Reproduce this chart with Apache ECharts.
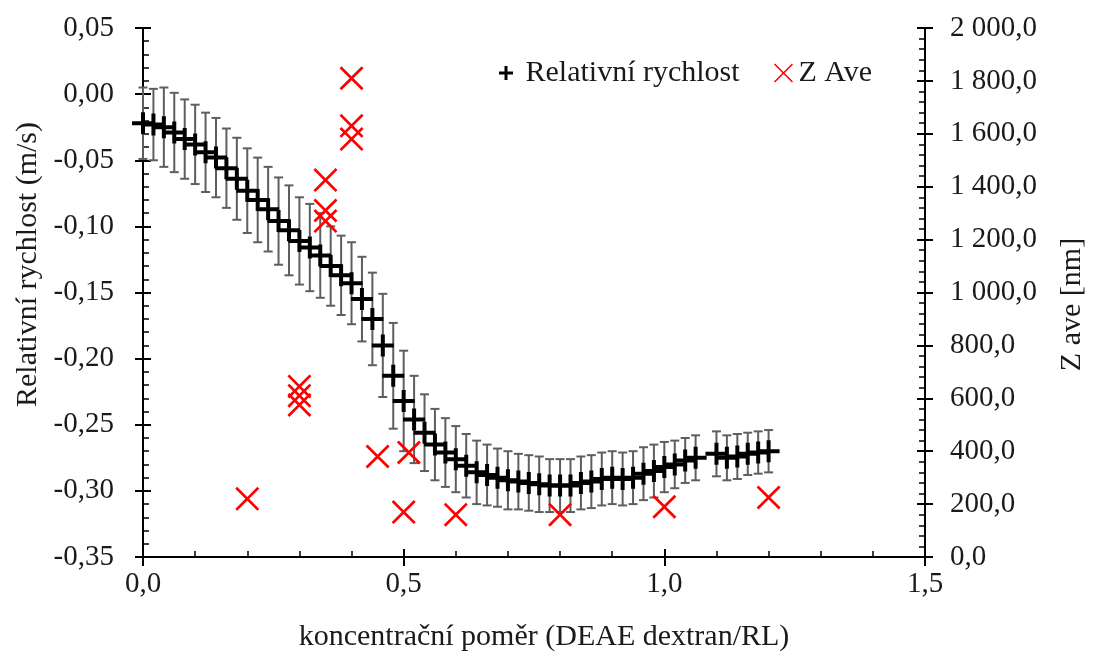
<!DOCTYPE html>
<html>
<head>
<meta charset="utf-8">
<script src="https://cdn.jsdelivr.net/npm/echarts@6/dist/echarts.min.js"></script>
<style>
  html, body { margin: 0; padding: 0; background: #ffffff; }
  #chart { width: 1095px; height: 657px; }
</style>
</head>
<body>
<div id="chart"></div>
<script>
// Concentration ratio (DEAE dextran / RL) for the velocity measurements
const concentration = [
  0.00, 0.02, 0.04, 0.06, 0.08, 0.10, 0.12, 0.14, 0.16, 0.18,
  0.20, 0.22, 0.24, 0.26, 0.28, 0.30, 0.32, 0.34, 0.36, 0.38,
  0.40, 0.42, 0.44, 0.46, 0.48, 0.50, 0.52, 0.54, 0.56, 0.58,
  0.60, 0.62, 0.64, 0.66, 0.68, 0.70, 0.72, 0.74, 0.76, 0.78,
  0.80, 0.82, 0.84, 0.86, 0.88, 0.90, 0.92, 0.94, 0.96, 0.98,
  1.00, 1.02, 1.04, 1.06, 1.10, 1.12, 1.14, 1.16, 1.18, 1.20
];
// Relative velocity (m/s)
const velocity = [
  -0.022, -0.023, -0.025, -0.029, -0.034, -0.038, -0.044, -0.048, -0.056, -0.064,
  -0.073, -0.080, -0.087, -0.096, -0.103, -0.111, -0.116, -0.122, -0.130, -0.137,
  -0.143, -0.155, -0.170, -0.190, -0.213, -0.232, -0.246, -0.256, -0.265, -0.271,
  -0.276, -0.281, -0.286, -0.288, -0.290, -0.292, -0.293, -0.294, -0.295, -0.296,
  -0.296, -0.296, -0.294, -0.293, -0.291, -0.290, -0.291, -0.290, -0.287, -0.285,
  -0.282, -0.280, -0.277, -0.275, -0.272, -0.275, -0.274, -0.272, -0.271, -0.270
];
// Standard deviation of the relative velocity (m/s)
const velocityErr = [
  0.027, 0.027, 0.030, 0.030, 0.030, 0.030, 0.030, 0.030, 0.030, 0.031,
  0.032, 0.032, 0.032, 0.033, 0.034, 0.033, 0.033, 0.032, 0.030, 0.030,
  0.031, 0.032, 0.035, 0.039, 0.040, 0.038, 0.033, 0.029, 0.027, 0.026,
  0.025, 0.024, 0.024, 0.023, 0.022, 0.022, 0.021, 0.021, 0.021, 0.020,
  0.020, 0.020, 0.020, 0.020, 0.020, 0.020, 0.020, 0.020, 0.020, 0.020,
  0.019, 0.018, 0.017, 0.017, 0.017, 0.017, 0.017, 0.016, 0.016, 0.016
];
// Z-average particle size (nm)
const zAveConc = [0.20, 0.30, 0.30, 0.30, 0.35, 0.35, 0.35, 0.40, 0.40, 0.40, 0.45, 0.50, 0.51, 0.60, 0.80, 1.00, 1.20];
const zAveNm   = [220, 645, 610, 575, 1425, 1310, 1270, 1810, 1630, 1580, 380, 170, 395, 160, 160, 190, 225];

const FONT = '"Liberation Serif", "Times New Roman", serif';
const TEXT = '#1a1a1a';
const PLUS = 'path://M9,0H13V9H22V13H13V22H9V13H0V9H9Z';
const PLUS_LEGEND = 'path://M5.5,0H8.5V5.5H14V8.5H8.5V14H5.5V8.5H0V5.5H5.5Z';
const CROSS = 'path://M0,1.9L1.9,0L12,10.1L22.1,0L24,1.9L13.9,12L24,22.1L22.1,24L12,13.9L1.9,24L0,22.1L10.1,12Z';
const CROSS_THIN = 'path://M0,1.4L1.4,0L12,10.6L22.6,0L24,1.4L13.4,12L24,22.6L22.6,24L12,13.4L1.4,24L0,22.6L10.6,12Z';

function fmtComma(v, digits) {
  if (Math.abs(v) < 1e-9) v = 0;
  return v.toFixed(digits).replace('.', ',');
}
function fmtNm(v) {
  const n = Math.round(v).toString().replace(/\B(?=(\d{3})+(?!\d))/g, ' ');
  return n + ',0';
}

const labelStyle = { fontFamily: FONT, fontSize: 29, color: TEXT };
const axisLine = { show: true, onZero: false, lineStyle: { color: '#000', width: 2 } };
const tickStyle = { color: '#000', width: 2 };
const minorStyle = { color: '#000', width: 1.5 };

const chart = echarts.init(document.getElementById('chart'), null, { renderer: 'canvas' });

chart.setOption({
  backgroundColor: '#ffffff',
  animation: false,
  grid: { left: 143, right: 167, top: 28, bottom: 99, containLabel: false },
  legend: [
    {
      left: 499, top: 58, padding: 0,
      itemWidth: 14, itemHeight: 14,
      formatter: ' {name}',
      textStyle: { fontFamily: FONT, fontSize: 30, color: TEXT },
      data: [{ name: 'Relativní rychlost', icon: PLUS_LEGEND, itemStyle: { color: '#000' } }]
    },
    {
      left: 774, top: 58, padding: 0,
      itemWidth: 20, itemHeight: 19,
      textStyle: { fontFamily: FONT, fontSize: 30, color: TEXT },
      data: [{ name: 'Z Ave', icon: CROSS_THIN, itemStyle: { color: '#ff0000' } }]
    }
  ],
  xAxis: [
    {
      type: 'value', position: 'bottom', min: 0, max: 1.5, interval: 0.5,
      axisLine: axisLine,
      axisTick: { show: true, inside: true, length: 8, lineStyle: tickStyle },
      minorTick: { show: true, splitNumber: 5, length: 6, lineStyle: minorStyle },
      splitLine: { show: false },
      axisLabel: Object.assign({ margin: 13, formatter: v => fmtComma(v, 1) }, labelStyle),
      name: 'koncentrační poměr (DEAE dextran/RL)',
      nameLocation: 'middle', nameGap: 65,
      nameTextStyle: { fontFamily: FONT, fontSize: 30, color: TEXT, padding: [0, 0, 0, 20] }
    },
    {
      type: 'value', position: 'bottom', min: 0, max: 1.5, interval: 0.5,
      axisLine: { show: false, onZero: false },
      axisTick: { show: true, inside: false, length: 9, lineStyle: tickStyle },
      axisLabel: { show: false }, splitLine: { show: false }
    }
  ],
  yAxis: [
    {
      type: 'value', position: 'left', min: -0.35, max: 0.05, interval: 0.05,
      axisLine: axisLine,
      axisTick: { show: true, inside: true, length: 8, lineStyle: tickStyle },
      minorTick: { show: true, splitNumber: 5, length: 6, lineStyle: minorStyle },
      splitLine: { show: false },
      axisLabel: Object.assign({ margin: 29, formatter: v => fmtComma(v, 2) }, labelStyle),
      name: 'Relativní rychlost (m/s)',
      nameLocation: 'middle', nameRotate: 90, nameGap: 96,
      nameTextStyle: { fontFamily: FONT, fontSize: 30, color: TEXT, padding: [0, 0, 0, 56] }
    },
    {
      type: 'value', position: 'right', min: 0, max: 2000, interval: 200,
      axisLine: axisLine,
      axisTick: { show: true, inside: true, length: 8, lineStyle: tickStyle },
      minorTick: { show: true, splitNumber: 5, length: 6, lineStyle: minorStyle },
      splitLine: { show: false },
      axisLabel: Object.assign({ margin: 25, formatter: fmtNm }, labelStyle),
      name: 'Z ave [nm]',
      nameLocation: 'middle', nameRotate: 90, nameGap: 132,
      nameTextStyle: { fontFamily: FONT, fontSize: 30, color: TEXT, padding: [0, 24, 0, 0] }
    },
    {
      type: 'value', position: 'left', min: -0.35, max: 0.05, interval: 0.05,
      axisLine: { show: false, onZero: false },
      axisTick: { show: true, inside: false, length: 8, lineStyle: tickStyle },
      axisLabel: { show: false }, splitLine: { show: false }
    },
    {
      type: 'value', position: 'right', min: 0, max: 2000, interval: 200,
      axisLine: { show: false, onZero: false },
      axisTick: { show: true, inside: false, length: 8, lineStyle: tickStyle },
      axisLabel: { show: false }, splitLine: { show: false }
    }
  ],
  series: [
    {
      // vertical error bars with caps
      type: 'custom',
      name: 'error',
      xAxisIndex: 0, yAxisIndex: 0,
      silent: true, z: 1,
      encode: { x: 0, y: [1, 2] },
      data: concentration.map((c, i) => [c, velocity[i] - velocityErr[i], velocity[i] + velocityErr[i]]),
      renderItem: function (params, api) {
        const x = api.value(0);
        const lo = api.coord([x, api.value(1)]);
        const hi = api.coord([x, api.value(2)]);
        const cap = 4.5;
        const style = { stroke: '#5e5e5e', lineWidth: 2, fill: null };
        return {
          type: 'group',
          children: [
            { type: 'line', shape: { x1: lo[0], y1: lo[1], x2: hi[0], y2: hi[1] }, style: style },
            { type: 'line', shape: { x1: lo[0] - cap, y1: lo[1], x2: lo[0] + cap, y2: lo[1] }, style: style },
            { type: 'line', shape: { x1: hi[0] - cap, y1: hi[1], x2: hi[0] + cap, y2: hi[1] }, style: style }
          ]
        };
      }
    },
    {
      type: 'scatter',
      name: 'Relativní rychlost',
      xAxisIndex: 0, yAxisIndex: 0, z: 2,
      symbol: PLUS, symbolSize: [22, 22],
      itemStyle: { color: '#000', opacity: 1 },
      data: concentration.map((c, i) => [c, velocity[i]])
    },
    {
      type: 'scatter',
      name: 'Z Ave',
      xAxisIndex: 0, yAxisIndex: 1, z: 3,
      symbol: CROSS, symbolSize: [24, 24],
      itemStyle: { color: '#ff0000', opacity: 1 },
      data: zAveConc.map((c, i) => [c, zAveNm[i]])
    }
  ]
});
</script>
</body>
</html>
